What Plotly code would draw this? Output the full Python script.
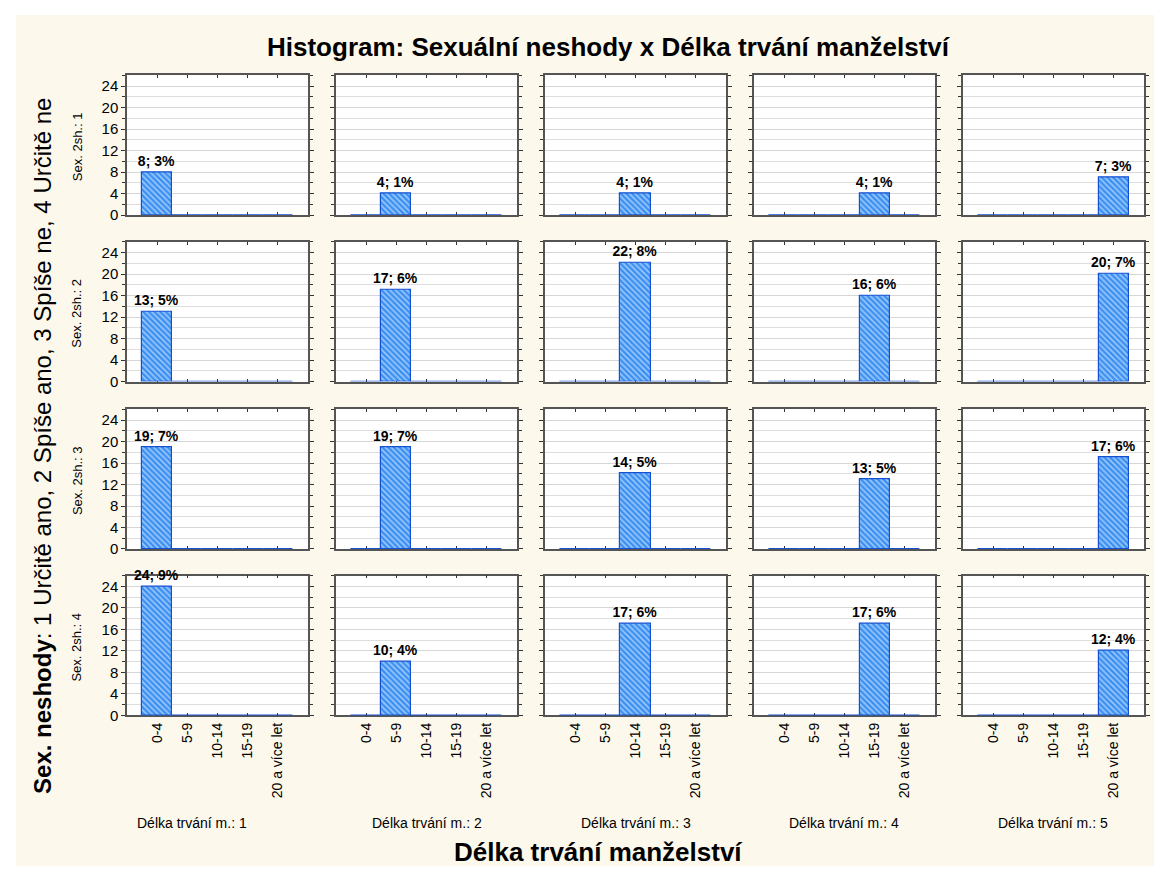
import plotly.graph_objects as go

W, H = 1162, 873

categories = ["0-4", "5-9", "10-14", "15-19", "20 a více let"]
row_labels = ["Sex. 2sh.: 1", "Sex. 2sh.: 2", "Sex. 2sh.: 3", "Sex. 2sh.: 4"]
col_labels = ["Délka trvání m.: 1", "Délka trvání m.: 2", "Délka trvání m.: 3",
              "Délka trvání m.: 4", "Délka trvání m.: 5"]

# counts per Sex. neshody level (rows), by Délka trvání (columns)
sex1_counts = [8, 4, 4, 4, 7]
sex2_counts = [13, 17, 22, 16, 20]
sex3_counts = [19, 19, 14, 13, 17]
sex4_counts = [24, 10, 17, 17, 12]
rows_counts = [sex1_counts, sex2_counts, sex3_counts, sex4_counts]

y_ticks = [0, 4, 8, 12, 16, 20, 24]

total = sum(sum(r) for r in rows_counts)

col_left = [119, 328, 537, 746, 955]
col_right = [300, 509, 718, 927, 1136]
row_top = [68, 236, 405, 573]
row_bot = [209, 377, 546, 714]
col_label_x = [184, 418.5, 627.5, 836, 1045]

BG = "#FDF8EC"
FONT = "Liberation Sans, Arial, sans-serif"

fig = go.Figure()
layout = {}
annotations = []

for r in range(4):
    for c in range(5):
        idx = r * 5 + c + 1
        xa = "x" if idx == 1 else f"x{idx}"
        ya = "y" if idx == 1 else f"y{idx}"
        vals = [rows_counts[r][c] if i == c else 0 for i in range(5)]
        texts = [f"<b>{v}; {round(100 * v / total)}%</b>" if v > 0 else "" for v in vals]
        fig.add_trace(go.Bar(
            x=list(range(5)), y=vals, xaxis=xa, yaxis=ya,
            width=1.0,
            marker=dict(color="#4a9cf5",
                        line=dict(color="#1450d2", width=1.2),
                        pattern=dict(shape="\\", fgcolor="#ffffff", bgcolor="#3a90f2",
                                     size=4, solidity=0.4)),
            text=texts, textposition="outside", cliponaxis=False,
            constraintext="none",
            textfont=dict(family=FONT, size=14, color="#000000"),
            showlegend=False, hoverinfo="skip",
        ))
        xkey = "xaxis" if idx == 1 else f"xaxis{idx}"
        ykey = "yaxis" if idx == 1 else f"yaxis{idx}"
        layout[xkey] = dict(
            domain=[col_left[c] / W, col_right[c] / W],
            anchor=ya, range=[-1, 5],
            tickmode="array", tickvals=list(range(5)), ticktext=categories,
            showticklabels=(r == 3), tickangle=-90,
            tickfont=dict(family=FONT, size=14, color="#000000"),
            ticks="inside", ticklen=3, tickcolor="#333333",
            showline=True, linecolor="#555555", linewidth=1.5, mirror="ticks",
            showgrid=False, zeroline=False, fixedrange=True,
            layer="below traces",
        )
        layout[ykey] = dict(
            domain=[1 - row_bot[r] / H, 1 - row_top[r] / H],
            anchor=xa, range=[0, 26],
            tickmode="array", tickvals=y_ticks,
            showticklabels=(c == 0),
            tickfont=dict(family=FONT, size=15, color="#000000"),
            ticks="outside", ticklen=4, tickcolor="#333333",
            minor=dict(dtick=2, showgrid=True, gridcolor="#dedede", gridwidth=1,
                       ticks="outside", ticklen=3, tickcolor="#333333"),
            showgrid=True, gridcolor="#d6d6d6", gridwidth=1,
            showline=True, linecolor="#555555", linewidth=1.5, mirror="ticks",
            zeroline=False, fixedrange=True,
            layer="below traces",
        )

# row labels
for r in range(4):
    annotations.append(dict(
        text=row_labels[r], x=69 / W, y=1 - (row_top[r] + row_bot[r] + 4) / 2 / H,
        xref="paper", yref="paper", showarrow=False, textangle=-90,
        font=dict(family=FONT, size=13, color="#000000"),
        xanchor="center", yanchor="middle"))

# column labels
for c in range(5):
    annotations.append(dict(
        text=col_labels[c], x=col_label_x[c] / W, y=1 - 823 / H,
        xref="paper", yref="paper", showarrow=False,
        font=dict(family=FONT, size=14, color="#000000"),
        xanchor="center", yanchor="middle"))

annotations.append(dict(
    text="<b>Délka trvání manželství</b>", x=590 / W, y=1 - 852 / H,
    xref="paper", yref="paper", showarrow=False,
    font=dict(family=FONT, size=26, color="#000000"),
    xanchor="center", yanchor="middle"))

annotations.append(dict(
    text="<b>Sex. neshody</b>: 1 Určitě ano, 2 Spíše ano, 3 Spíše ne, 4 Určitě ne",
    x=35 / W, y=1 - 442 / H,
    xref="paper", yref="paper", showarrow=False, textangle=-90,
    font=dict(family=FONT, size=24, color="#000000"),
    xanchor="center", yanchor="middle"))

annotations.append(dict(
    text="<b>Histogram: Sexuální neshody x Délka trvání manželství</b>",
    x=600 / W, y=1 - 39 / H,
    xref="paper", yref="paper", showarrow=False,
    font=dict(family=FONT, size=26, color="#000000"),
    xanchor="center", yanchor="middle"))

white = "#ffffff"
fig.update_layout(
    width=W, height=H,
    margin=dict(l=0, r=0, t=0, b=0),
    paper_bgcolor=BG, plot_bgcolor="#ffffff",
    bargap=0,
    annotations=annotations,
    shapes=[
        dict(type="rect", xref="paper", yref="paper", x0=0, x1=8 / W, y0=0, y1=1,
             fillcolor=white, line=dict(width=0), layer="below"),
        dict(type="rect", xref="paper", yref="paper", x0=0, x1=1, y0=1 - 7 / H, y1=1,
             fillcolor=white, line=dict(width=0), layer="below"),
        dict(type="rect", xref="paper", yref="paper", x0=1154 / W, x1=1, y0=0, y1=1,
             fillcolor=white, line=dict(width=0), layer="below"),
        dict(type="rect", xref="paper", yref="paper", x0=0, x1=1, y0=0, y1=1 - 866 / H,
             fillcolor=white, line=dict(width=0), layer="below"),
    ],
    **layout,
)

fig.write_html("out.html")
